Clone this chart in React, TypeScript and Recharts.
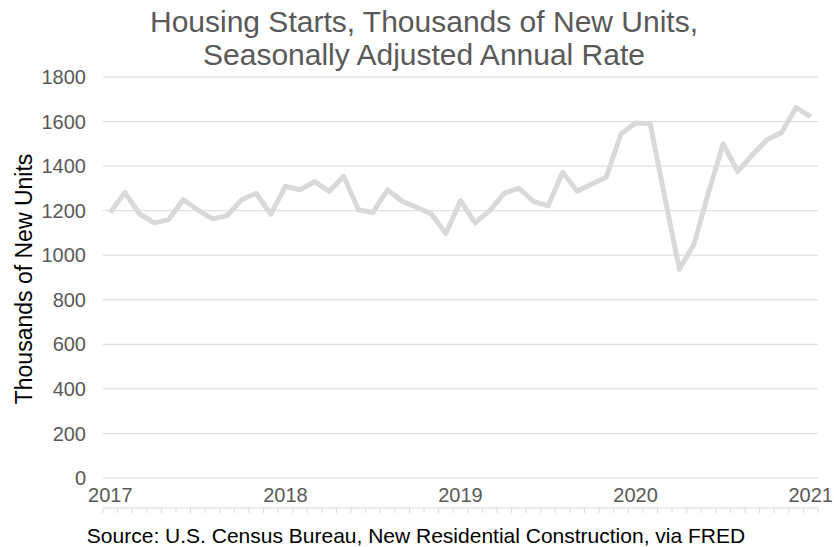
import React from 'react';
import { LineChart, Line, XAxis, YAxis, CartesianGrid } from 'recharts';

const months: string[] = [
  '2017-01','2017-02','2017-03','2017-04','2017-05','2017-06','2017-07','2017-08','2017-09','2017-10','2017-11','2017-12',
  '2018-01','2018-02','2018-03','2018-04','2018-05','2018-06','2018-07','2018-08','2018-09','2018-10','2018-11','2018-12',
  '2019-01','2019-02','2019-03','2019-04','2019-05','2019-06','2019-07','2019-08','2019-09','2019-10','2019-11','2019-12',
  '2020-01','2020-02','2020-03','2020-04','2020-05','2020-06','2020-07','2020-08','2020-09','2020-10','2020-11','2020-12',
  '2021-01',
];

const housingStarts: number[] = [
  1192, 1282, 1185, 1145, 1160, 1249, 1204, 1163, 1178, 1249, 1278, 1184,
  1309, 1294, 1330, 1287, 1354, 1204, 1192, 1294, 1242, 1215, 1185, 1098,
  1245, 1145, 1200, 1279, 1300, 1242, 1222, 1372, 1287, 1320, 1351, 1545,
  1593, 1590, 1260, 937, 1049, 1283, 1500, 1376, 1451, 1518, 1551, 1663,
  1622,
];

const yearLabels: string[] = ['2017', '2018', '2019', '2020', '2021'];
const yTicks: number[] = [0, 200, 400, 600, 800, 1000, 1200, 1400, 1600, 1800];

const titleLines: string[] = ['Housing Starts, Thousands of New Units,', 'Seasonally Adjusted Annual Rate'];
const yAxisTitle = 'Thousands of New Units';
const sourceText = 'Source: U.S. Census Bureau, New Residential Construction, via FRED';

const data = months.map((m, i) => ({ idx: i, month: m, value: housingStarts[i] }));
const monthTickPositions = months.map((_, i) => i - 0.5).concat([months.length - 0.5]);
const yearTickPositions = yearLabels.map((y) => months.indexOf(`${y}-01`));

const FONT = '"Liberation Sans", Arial, sans-serif';
const W = 834;
const H = 547;

export default function App() {
  const domain: [number, number] = [-0.5, months.length - 0.5];
  return (
    <div style={{ position: 'absolute', left: 0, top: 0, width: W, height: H, background: '#fff', fontFamily: FONT }}>
      <LineChart width={W} height={H} data={data} margin={{ top: 77, right: 16, left: 0, bottom: 33 }}>
        <CartesianGrid vertical={false} stroke="#d9d9d9" strokeWidth={1} />
        <YAxis
          domain={[0, 1800]}
          ticks={yTicks}
          width={103}
          axisLine={false}
          tickLine={false}
          tickSize={0}
          tickMargin={17}
          tick={{ fill: '#595959', fontSize: 20, fontFamily: FONT }}
          interval={0}
        />
        <XAxis
          xAxisId="t"
          dataKey="idx"
          type="number"
          domain={domain}
          ticks={monthTickPositions}
          interval={0}
          height={6}
          axisLine={{ stroke: '#d9d9d9', strokeWidth: 1 }}
          tickLine={{ stroke: '#d9d9d9', strokeWidth: 1 }}
          tickSize={5}
          tickFormatter={() => ''}
          allowDataOverflow
        />
        <XAxis
          xAxisId="l"
          dataKey="idx"
          type="number"
          domain={domain}
          ticks={yearTickPositions}
          interval={0}
          height={30}
          axisLine={false}
          tickLine={false}
          tickSize={0}
          tickMargin={10}
          tick={{ fill: '#595959', fontSize: 20, fontFamily: FONT }}
          tickFormatter={(v: number) => months[v] ? months[v].slice(0, 4) : ''}
          allowDataOverflow
        />
        <Line
          xAxisId="t"
          dataKey="value"
          stroke="#d9d9d9"
          strokeWidth={5}
          dot={false}
          activeDot={false}
          strokeLinejoin="round"
          isAnimationActive={false}
        />
      </LineChart>
      <svg width={W} height={H} style={{ position: 'absolute', left: 0, top: 0, pointerEvents: 'none' }}>
        <text x={424} y={32} textAnchor="middle" fontSize={30} fill="#595959" fontFamily={FONT}>{titleLines[0]}</text>
        <text x={424} y={65} textAnchor="middle" fontSize={30} fill="#595959" fontFamily={FONT}>{titleLines[1]}</text>
        <text transform="rotate(-90)" x={-279} y={32} textAnchor="middle" fontSize={23} fill="#000" fontFamily={FONT}>{yAxisTitle}</text>
        <text x={416} y={543} textAnchor="middle" fontSize={21} fill="#000" fontFamily={FONT}>{sourceText}</text>
      </svg>
    </div>
  );
}
